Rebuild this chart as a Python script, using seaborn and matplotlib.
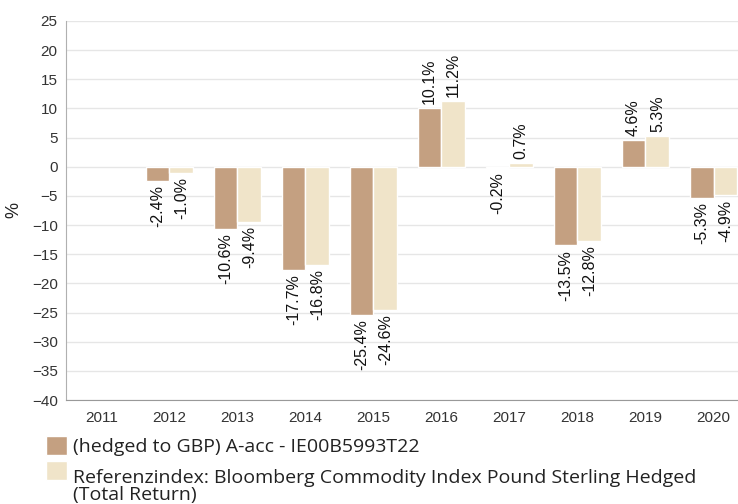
import numpy as np
import pandas as pd
import matplotlib
matplotlib.use("Agg")
import matplotlib.pyplot as plt
import matplotlib.patches as mpatches
from matplotlib.legend_handler import HandlerPatch
import seaborn as sns

years = ["2011", "2012", "2013", "2014", "2015", "2016", "2017", "2018", "2019", "2020"]
fund_name = "(hedged to GBP) A-acc - IE00B5993T22"
index_name = "Referenzindex: Bloomberg Commodity Index Pound Sterling Hedged\n(Total Return)"
fund_vals = [np.nan, -2.4, -10.6, -17.7, -25.4, 10.1, -0.2, -13.5, 4.6, -5.3]
index_vals = [np.nan, -1.0, -9.4, -16.8, -24.6, 11.2, 0.7, -12.8, 5.3, -4.9]
y_ticks = list(range(-40, 30, 5))

sns.set_style("white")
plt.rcParams["font.family"] = ["Liberation Sans", "DejaVu Sans"]

df = pd.DataFrame({
    "year": years * 2,
    "value": fund_vals + index_vals,
    "series": [fund_name] * len(years) + [index_name] * len(years),
})

fig = plt.figure(figsize=(7.38, 5.04), dpi=100)
ax = fig.add_axes([66 / 738, 1 - 400 / 504, 1 - 66 / 738, (400 - 21) / 504])

sns.barplot(data=df, x="year", y="value", hue="series", order=years,
            hue_order=[fund_name, index_name], palette=["#C4A081", "#F0E4C9"],
            saturation=1, width=0.7, edgecolor="white", linewidth=1, ax=ax, legend=True)

ax.set_ylim(-40, 25)
ax.set_xlim(-0.52, 9.36)
ax.set_yticks(y_ticks)
ax.yaxis.grid(True, color="#e6e6e6", linewidth=1)
ax.set_axisbelow(True)
for s in ["top", "right"]:
    ax.spines[s].set_visible(False)
ax.spines["left"].set_color("#b0b0b0")
ax.spines["bottom"].set_color("#999999")
ax.tick_params(axis="both", length=0, labelsize=11, colors="#333333")
ax.tick_params(axis="x", pad=8)
ax.tick_params(axis="y", pad=6)
ax.set_xlabel("")
ax.set_ylabel("")
fig.text(14 / 738, 1 - 210 / 504, "%", rotation=90, ha="center", va="center",
         fontsize=13, color="#222222")

# 数据标签
for cont in ax.containers:
    for bar in cont:
        h = bar.get_height()
        if np.isnan(h):
            continue
        x = bar.get_x() + bar.get_width() / 2
        off = 3 if h >= 0 else -3
        ax.annotate(f"{h:.1f}%", (x, h), xytext=(0, off), textcoords="offset points",
                    rotation=90, ha="center", va="bottom" if h >= 0 else "top",
                    fontsize=11.5, color="#111111")


# 两行图例的色块对齐第一行
def top_patch(legend, orig_handle, xdescent, ydescent, width, height, fontsize):
    return mpatches.Rectangle((-xdescent, -ydescent + 0.82 * fontsize), width, height)


handles, labels = ax.get_legend_handles_labels()
leg = ax.legend(handles, labels, loc="upper left", bbox_to_anchor=(-20 / 672, -36 / 379),
                frameon=False, handlelength=1.1, handleheight=1.1, handletextpad=0.3,
                labelspacing=0.65, borderaxespad=0, borderpad=0,
                handler_map={handles[1]: HandlerPatch(patch_func=top_patch)},
                prop={"family": ["Open Sans", "DejaVu Sans"], "size": 14})
for t in leg.get_texts():
    t.set_color("#222222")
    t.set_linespacing(0.95)

fig.savefig("out.png", dpi=100)
